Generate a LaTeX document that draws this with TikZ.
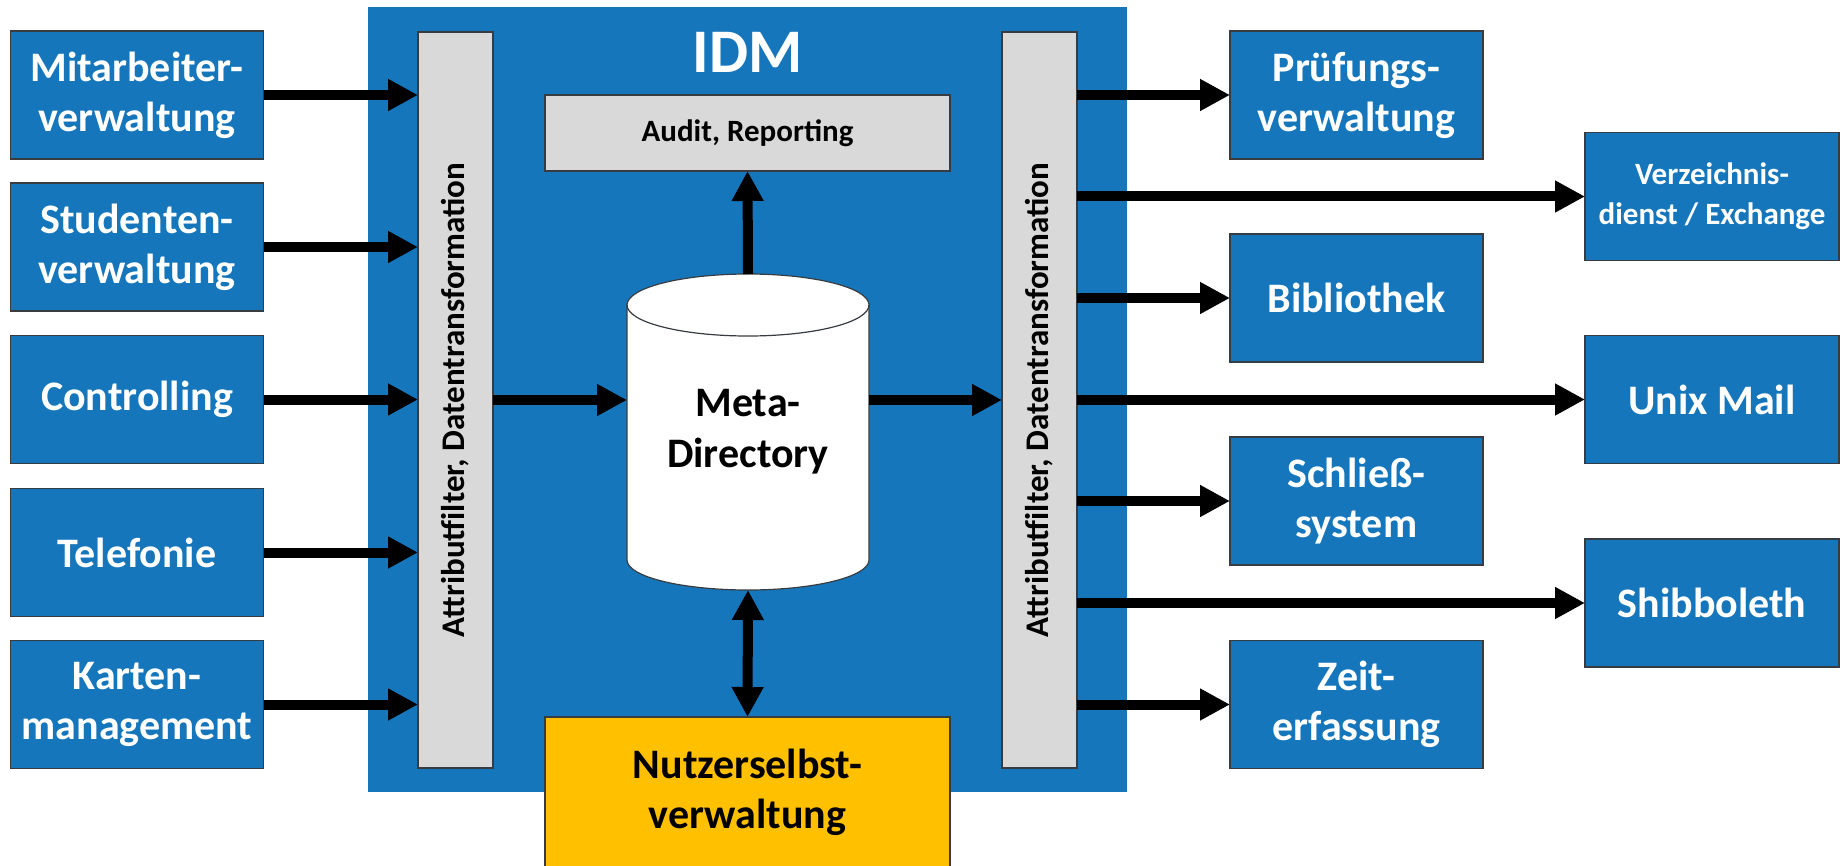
\documentclass[tikz,border=0pt]{standalone}
\usepackage{fontspec}
\setmainfont{Carlito}
\usetikzlibrary{arrows.meta}
\definecolor{idmblue}{RGB}{21,118,187}
\definecolor{bargray}{RGB}{217,217,217}
\definecolor{selfyellow}{RGB}{255,192,0}
\definecolor{edgegray}{RGB}{55,60,66}

\begin{document}
\begin{tikzpicture}[x=0.5pt,y=-0.5pt,
  sysbox/.style={draw=edgegray, line width=0.6pt, fill=idmblue, text=white,
    font=\fontsize{21}{25}\selectfont\bfseries, align=center,
    minimum width=126.5pt, minimum height=64pt, inner sep=0pt, outer sep=0pt},
  smallsys/.style={sysbox, font=\fontsize{15.5}{20}\selectfont\bfseries},
  graybox/.style={draw=edgegray, line width=0.6pt, fill=bargray, inner sep=0pt, outer sep=0pt},
  bar/.style={graybox, minimum width=37.5pt, minimum height=368pt},
  bartext/.style={rotate=90, font=\fontsize{16.5}{20}\selectfont\bfseries, text=black},
  flow/.style={line width=5pt, -{Triangle[length=15pt,width=15pt]}},
  twoflow/.style={line width=5pt, {Triangle[length=15pt,width=15pt]}-{Triangle[length=15pt,width=15pt]}},
]
\useasboundingbox (0,0) rectangle (1845,866);

% IDM container
\node[fill=idmblue, minimum width=379.5pt, minimum height=392.5pt, inner sep=0pt, outer sep=0pt] (idm) at (747.5,399.5) {};
\node[text=white, font=\fontsize{31}{31}\selectfont\bfseries] (idmtitle) at (747.5,52) {IDM};

% filter bars
\node[bar] (lbar) at (455.5,400) {};
\node[bartext] (lbartext) at (lbar) {Attributfilter, Datentransformation};
\node[bar] (rbar) at (1039.5,400) {};
\node[bartext] (rbartext) at (rbar) {Attributfilter, Datentransformation};

% audit
\node[graybox, minimum width=202.5pt, minimum height=38pt,
  font=\fontsize{15.5}{18}\selectfont\bfseries] (audit) at (747.5,133) {Audit, Reporting};

% meta directory (cylinder drawn around an invisible node)
\node[minimum width=121pt, minimum height=158pt, inner sep=0pt, outer sep=0pt] (meta) at (748,432) {};
\draw[draw=edgegray, line width=0.6pt, fill=white]
  (627,305) -- (627,560) arc[start angle=180, end angle=360, x radius=60.5pt, y radius=15pt]
  -- (869,305) arc[start angle=0, end angle=180, x radius=60.5pt, y radius=15.5pt] -- cycle;
\draw[draw=edgegray, line width=0.6pt]
  (627,305) arc[start angle=180, end angle=360, x radius=60.5pt, y radius=15.5pt];
\node[align=center, font=\fontsize{21}{25.5}\selectfont\bfseries] (metatext) at (meta) {Meta-\\Directory};

% self service
\node[draw=edgegray, line width=0.6pt, fill=selfyellow, minimum width=202.5pt, minimum height=75pt,
  inner sep=0pt, outer sep=0pt, align=center, font=\fontsize{21}{25}\selectfont\bfseries] (self) at (747.5,792) {Nutzerselbst-\\verwaltung};

% source systems
\node[sysbox] (mit)  at (137,95)    {Mitarbeiter-\\verwaltung};
\node[sysbox] (stud) at (137,247)   {Studenten-\\verwaltung};
\node[sysbox] (ctrl) at (137,399.5) {Controlling};
\node[sysbox] (tel)  at (137,552.5) {Telefonie};
\node[sysbox] (kart) at (137,704.5) {Karten-\\management};

% target systems
\node[sysbox] (pruef) at (1356.5,95)    {Prüfungs-\\verwaltung};
\node[sysbox] (bib)   at (1356.5,298)   {Bibliothek};
\node[sysbox] (schl)  at (1356.5,501)   {Schließ-\\system};
\node[sysbox] (zeit)  at (1356.5,704.5) {Zeit-\\erfassung};
\node[smallsys, minimum width=127pt] (verz) at (1712,196.5) {Verzeichnis-\\dienst / Exchange};
\node[sysbox, minimum width=127pt] (unix) at (1712,399.5) {Unix Mail};
\node[sysbox, minimum width=127pt] (shib) at (1712,603)   {Shibboleth};

% connectors
\foreach \s in {mit,stud,ctrl,tel,kart}
  \draw[flow] (\s.east) -- (\s.east -| lbar.west);
\draw[flow] (lbar.east) -- (lbar.east -| meta.west);
\draw[flow] (rbar.west -| meta.east) -- (rbar.west);
\draw[flow] (meta.north) -- (audit.south);
\draw[twoflow] (meta.south) -- (self.north);
\foreach \t in {pruef,verz,bib,unix,schl,shib,zeit}
  \draw[flow] (\t.west -| rbar.east) -- (\t.west);
\end{tikzpicture}
\end{document}
